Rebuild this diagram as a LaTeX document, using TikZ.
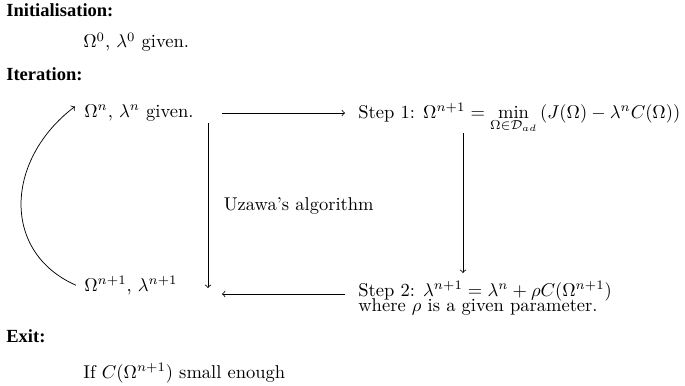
\documentclass[tikz,border=0pt]{standalone}
\usepackage{amsmath}
\usepackage{fontspec}
\newfontfamily\headfont{Liberation Serif}
\usetikzlibrary{arrows}

\begin{document}
\begin{tikzpicture}[x=0.54pt,y=-0.54pt,>=to]
  \tikzset{head/.style={anchor=base west,inner sep=0pt,font=\headfont\bfseries},
           txt/.style={anchor=base west,inner sep=0pt}}
  \useasboundingbox (0,0) rectangle (685,385);
  % The headings
  \node[head] (init) at (6,17) {Initialisation:};
  \node[head] (iter) at (6,80) {Iteration:};
  \node[head] (exit) at (6,342) {Exit:};
  % The texts
  \node[txt] (start) at (83,48) {$\Omega^0$, $\lambda^0$ given.};
  \node[txt] (top) at (84,117) {$\Omega^n$, $\lambda^n$ given.};
  \node[txt] (step1) at (358,118)
    {Step 1: $\Omega^{n+1} = \min\limits_{\Omega\in\mathcal{D}_{ad}} \left(J(\Omega)-\lambda^n C(\Omega)\right)$};
  \node[txt] (step2) at (358,296)
    {Step 2: $\lambda^{n+1} = \lambda^n + \rho C(\Omega^{n+1})$};
  \node[txt] (param) at (358,311) {where $\rho$ is a given parameter.};
  \node[txt] (bot) at (84,291) {$\Omega^{n+1}$, $\lambda^{n+1}$};
  \node[txt] (stop) at (83,378) {If $C(\Omega^{n+1})$ small enough};
  % The free ends of the vertical arrows
  \coordinate (uz1) at (208,123);
  \coordinate (uz2) at (208,288);
  \coordinate (st1) at (463,133);
  \coordinate (st2) at (463,273);
  % The arrows
  \draw[->] ([shift={(28,0)}]top.mid east) -- ([shift={(-13,0)}]top.mid east -| step1.west);
  \draw[->] (st1) -- (st2);
  \draw[->] ([shift={(-13,-2)}]step2.base west) -- ([shift={(14,-2)}]step2.base west -| uz2);
  \draw[->] (uz1) -- (uz2) node[midway,right=5pt] {Uzawa's algorithm};
  \draw[->] ([shift={(-8,0)}]bot.west) .. controls +(-75,-33) and +(-70,53) .. ([shift={(-9,-6)}]top.west);
\end{tikzpicture}
\end{document}
